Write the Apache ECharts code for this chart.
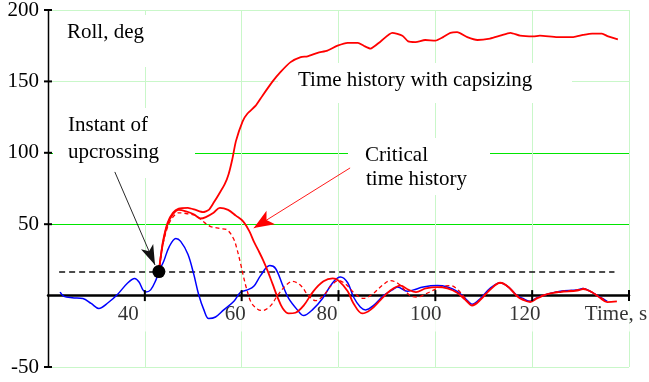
<!DOCTYPE html>
<html><head><meta charset="utf-8">
<script src="https://cdn.jsdelivr.net/npm/echarts@6.0.0/dist/echarts.min.js"></script>
<style>html,body{margin:0;padding:0;background:#fff}#c{width:649px;height:382px}</style>
</head><body><div id="c"></div>
<script>
// ---- data (time [s], roll [deg]) ----
const blueRoll = [[22.5,2.5],[23.3,-0.5],[25,-1.5],[27.2,-2],[28.9,-5.5],[30.5,-9],[32.4,-5],[34.4,1],[36.5,9],[37.9,12],[38.8,9.5],[39.6,4],[40.2,2.5],[41.2,4],[42.3,11],[42.9,16.8],[43.9,24],[45,34],[46.4,40],[47.4,38],[48.9,29],[50.1,15],[51.1,1],[52.2,-10],[53.2,-16],[54.6,-15],[56.3,-10],[58.4,-4],[59.8,2.5],[61.2,4],[62.5,6.5],[63.9,14],[65.8,21],[67,19],[68.5,7],[69.7,-2],[71.5,-10],[72.8,-14],[74.6,-10],[76.7,-2],[78.8,9],[80.4,13],[81.9,9],[83.1,-1],[84.5,-8],[85.6,-10],[87.2,-7],[89.3,0],[91.1,4],[92.2,6],[94.2,3],[95.5,4],[97.5,6],[100.4,7],[102.5,6],[104.5,3],[106.2,-2],[107.6,-6],[109.3,-2],[111.3,5],[113.4,9],[115.1,6],[116.9,0],[118.1,-2],[119.6,-4],[121,-1.5],[123.1,1],[125.8,3],[129.3,4],[130.5,5],[132,3],[134,-1],[135.5,-4]];
const criticalRoll = [[42.9,16.8],[43.7,36],[44.7,50],[45.8,57],[47,60],[48.5,59],[50.1,57],[51.5,54],[52.6,55],[54.2,58],[55.5,61.5],[57.2,60],[58.8,56],[60.3,52],[61.6,45],[62.5,38],[63.4,32],[64.4,25],[65.4,17],[66.4,8],[67.4,-1],[68.5,-9],[69.7,-12.5],[71.1,-12],[72.8,-7],[74.8,3],[76.9,10],[78.8,12],[80,10.5],[81.9,3],[83.1,-5.5],[84.9,-12.5],[86.6,-10],[88.7,-3],[90.7,3.5],[92.8,7],[94.5,4],[96,2.5],[98,5],[100.5,6],[102.5,5],[104.5,2],[106.2,-3],[107.6,-7],[109.3,-3],[111.3,4],[113.4,9],[115.1,6],[116.9,-0.5],[118.1,-3],[119.6,-4.5],[121,-2],[123.1,1],[125.8,2.5],[129.3,3.5],[130.5,4.5],[132,3],[134,-1.5],[135.5,-4.5],[137.5,-4]];
const dashedRoll = [[42.9,16.8],[43.7,35],[44.7,48],[45.8,55],[47,58],[48.5,57.5],[50.5,56],[52,52],[53.5,48.5],[55.5,47],[57,46],[58.3,40],[59,33],[59.8,22],[60.4,13],[61,5],[62,-5],[63.3,-9.5],[64.3,-10.5],[66,-7],[67.4,0],[69.1,7],[70.5,10],[72.2,7],[73.8,0],[75.3,-3.5],[76.9,0],[78.5,7],[80,10.5],[81.5,8],[83.2,2],[85.2,-2],[87,1],[89,7],[90.7,10.5],[92.5,8],[94.8,0],[96.3,-1],[98.5,2],[101,6],[103.1,7],[104.5,4.5],[106.2,-2],[107.6,-6.5],[109.3,-2.5],[111.3,4.5],[113.4,9],[115.1,6],[116.9,0],[118.1,-2.5],[119.6,-4],[121,-1.5],[123.1,1],[125.8,3],[129.3,4],[130.5,5],[132,3],[134,-1],[135.5,-4]];
const capsizeRoll = [[42.9,16.8],[43.7,37],[44.7,51],[45.8,58],[47,61],[48.9,61.5],[50.5,60],[52,58.5],[53.2,60],[54.2,65],[55.3,71],[56.5,78],[57.3,85],[58.1,96],[58.8,108],[60.2,122],[61.2,127.5],[62.9,133],[64.3,140],[66.4,150],[68,156.5],[70.1,163.5],[72.2,167],[73.6,167.5],[75.7,170],[77.7,171.5],[79.8,175],[81.9,177],[84,177],[85.2,175],[86.6,173],[88.7,178],[91.1,184],[93.2,182],[94.4,178],[95.9,177.5],[97.9,179],[100,178.5],[101.6,181],[103.1,184],[104.5,184.5],[106.6,181],[108.7,179],[111.3,180],[113.4,182],[115.5,184],[117.5,182],[120.2,181.5],[121.6,182],[125.2,181],[128.5,181],[130.5,182.5],[132.4,183.5],[134.4,183.5],[135.7,181.5],[137.7,179.5]];
const thresholdLine = [[22.3,16.5],[137,16.5]];
const upcrossPoint = [[42.9,16.8]];
const blackArrow = [[33.8,86.6],[42.1,21.4]];
const redArrow = [[82.4,89.4],[62.5,47.3]];
const highlightX = [40];
const highlightY = [50, 100];
const xTicks = [40, 60, 80, 100, 120, 140];
const yTicks = [-50, 50, 100, 150, 200];
const xMin = 20, xMax = 140, yMin = -50, yMax = 200;
const xAxisTitle = 'Time, s';

// ---- styles ----
const FONT = 'Liberation Serif';
const LIGHT = '#c9f7c9';
const BRIGHT = '#00e600';
const xShift = {40:33, 60:13, 80:23, 100:19, 120:15, 140:26};
const rich = {};
xTicks.forEach(v => { rich['s'+v] = {fontFamily: FONT, fontSize: 21, color:'#000', backgroundColor:'#fff', padding:[3, xShift[v], 7, 0]}; });
const txt = (s, x, y) => ({type:'text', z: 1.6, silent: true, x: x, y: y,
  style:{text: s, font: '21px "Liberation Serif"', fill:'#000', textVerticalAlign:'middle', verticalAlign:'middle'}});
const box = (x, y, w, h) => ({type:'rect', z: 1.5, silent: true, shape:{x:x, y:y, width:w, height:h}, style:{fill:'#fff'}});

const chart = echarts.init(document.getElementById('c'), null, {renderer:'canvas'});
chart.setOption({
  animation: false,
  backgroundColor: '#fff',
  grid: {left: 48, right: 20, top: 10, bottom: 15, containLabel: false, outerBoundsMode: 'none'},
  xAxis: {
    type: 'value', min: xMin, max: xMax, interval: 20, z: 1,
    axisLine: {show: true, onZero: true, lineStyle: {color: '#000', width: 2.5}},
    axisTick: {show: false},
    axisLabel: {show: false},
    splitLine: {show: true, showMinLine: false, lineStyle: {color: LIGHT, width: 1}}
  },
  yAxis: {
    type: 'value', min: yMin, max: yMax, interval: 50,
    axisLine: {show: false},
    axisTick: {show: false},
    axisLabel: {margin: 9, fontFamily: FONT, fontSize: 21, color: '#000',
      formatter: v => v === 0 ? '' : String(v)},
    splitLine: {show: true, lineStyle: {color: LIGHT, width: 1}}
  },
  graphic: [
    box(53, 15, 112, 52), box(53, 108, 142, 70), box(278, 63, 294, 40), box(348, 138, 142, 57),
    txt('Roll, deg', 67, 32),
    txt('Instant of', 68, 125),
    txt('upcrossing', 68, 152),
    txt('Time history with capsizing', 298, 80),
    txt('Critical', 365, 155),
    txt('time history', 366, 179)
  ],
  series: [
    {type:'line', name:'highlight', data: [], z: 0.5, silent: true,
      markLine: {z: 0.5, silent: true, symbol: ['none', 'none'], label: {show: false}, animation: false,
        lineStyle: {color: BRIGHT, width: 1, type: 'solid'},
        data: highlightX.map(v => ({xAxis: v})).concat(highlightY.map(v => ({yAxis: v})))}},
    {type:'scatter', name:'xlabels', data: xTicks.map(v => [v, 0]), symbolSize: 0, clip: false, silent: true, z: 1.2,
      label: {show: true, position: 'bottom', distance: 5,
        formatter: p => '{s' + p.value[0] + '|' + (p.value[0] === 140 ? xAxisTitle : p.value[0]) + '}',
        rich: rich}},
    {type:'line', name:'threshold', data: thresholdLine, symbol:'none', silent: true, z: 2,
      lineStyle: {color:'#111', width: 1.5, type: [6, 4]}},
    {type:'line', name:'blue', data: blueRoll, symbol:'none', smooth: 0.35, z: 3,
      lineStyle: {color:'#0000ff', width: 1.5}},
    {type:'line', name:'dashed', data: dashedRoll, symbol:'none', smooth: 0.35, z: 3,
      lineStyle: {color:'#ff0000', width: 1.3, type: [4, 3]}},
    {type:'line', name:'critical', data: criticalRoll, symbol:'none', smooth: 0.35, z: 3,
      lineStyle: {color:'#ff0000', width: 1.8}},
    {type:'line', name:'capsize', data: capsizeRoll, symbol:'none', smooth: 0.2, z: 3,
      lineStyle: {color:'#ff0000', width: 1.8}},
    {type:'scatter', name:'xticks', data: xTicks.map(v => [v, 0]), symbol:'rect', symbolSize:[2, 11], clip: false, silent: true, z: 4,
      itemStyle:{color:'#000', opacity: 1}},
    {type:'scatter', name:'yticks', data: yTicks.map(v => [xMin, v]), symbol:'rect', symbolSize:[8, 2], clip: false, silent: true, z: 4,
      itemStyle:{color:'#000', opacity: 1}},
    {type:'scatter', name:'dot', data: upcrossPoint, symbol:'circle', symbolSize: 13, silent: true, z: 6,
      itemStyle:{color:'#000', opacity: 1}},
    {type:'line', name:'arrows', data: [], silent: true, z: 5,
      markLine: {z: 5, silent: true, label: {show: false}, animation: false,
        lineStyle: {type: 'solid', width: 0.9},
        data: [
          [{coord: blackArrow[0], symbol: 'none', lineStyle:{color:'#111', width: 0.9, type:'solid'}},
           {coord: blackArrow[1], symbol: 'arrow', symbolSize: [10, 20]}],
          [{coord: redArrow[0], symbol: 'none', lineStyle:{color:'#ff0000', width: 0.9, type:'solid'}},
           {coord: redArrow[1], symbol: 'arrow', symbolSize: [12, 20]}]
        ]}}
  ]
});
// y-axis line, placed through the chart's own scales
const pTop = chart.convertToPixel({gridIndex: 0}, [xMin, yMax]);
const pBot = chart.convertToPixel({gridIndex: 0}, [xMin, yMin]);
chart.setOption({
  graphic: [
    box(53, 15, 112, 52), box(53, 108, 142, 70), box(278, 63, 294, 40), box(348, 138, 142, 57),
    txt('Roll, deg', 67, 32),
    txt('Instant of', 68, 125),
    txt('upcrossing', 68, 152),
    txt('Time history with capsizing', 298, 80),
    txt('Critical', 365, 155),
    txt('time history', 366, 179),
    {type:'line', z: 10, silent: true,
      shape: {x1: Math.round(pTop[0]) + 0.5, y1: pTop[1], x2: Math.round(pBot[0]) + 0.5, y2: pBot[1]},
      style: {stroke: '#000', lineWidth: 1.5}}
  ]
});
</script>
</body></html>
